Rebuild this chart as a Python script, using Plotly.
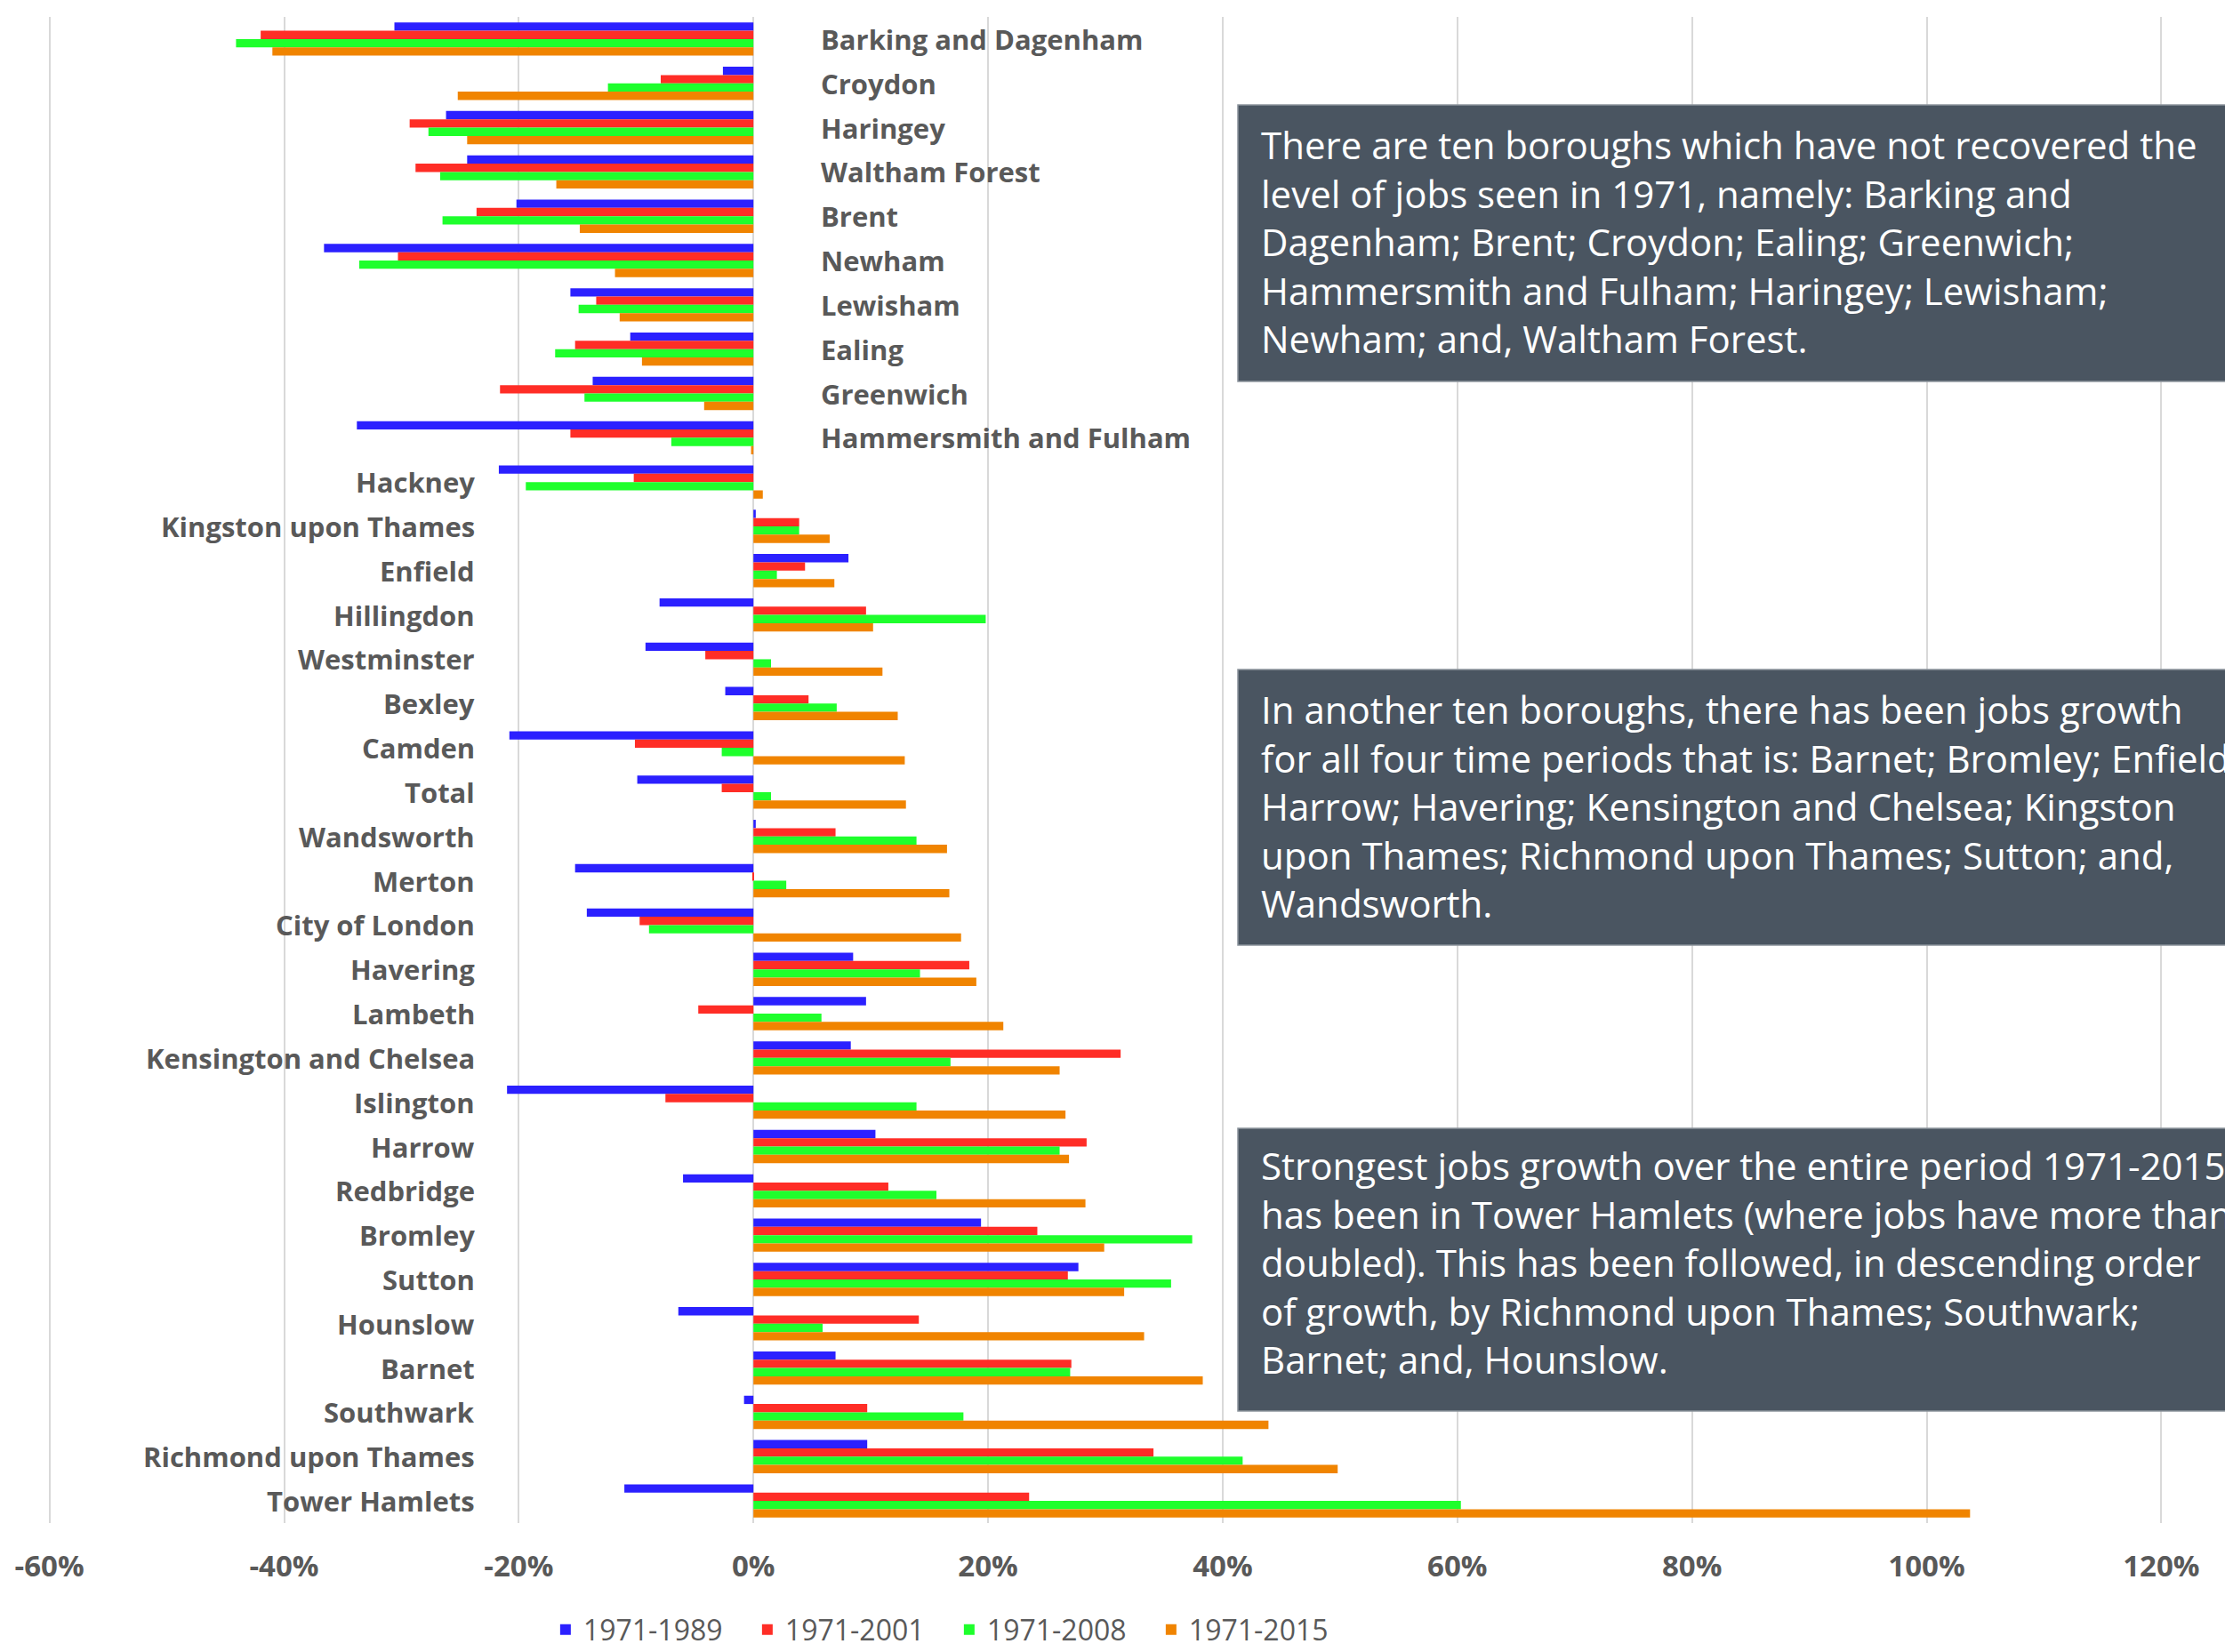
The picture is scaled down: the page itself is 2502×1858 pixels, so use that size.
import plotly.graph_objects as go

boroughs = [
    "Barking and Dagenham", "Croydon", "Haringey", "Waltham Forest", "Brent",
    "Newham", "Lewisham", "Ealing", "Greenwich", "Hammersmith and Fulham",
    "Hackney", "Kingston upon Thames", "Enfield", "Hillingdon", "Westminster",
    "Bexley", "Camden", "Total", "Wandsworth", "Merton",
    "City of London", "Havering", "Lambeth", "Kensington and Chelsea", "Islington",
    "Harrow", "Redbridge", "Bromley", "Sutton", "Hounslow",
    "Barnet", "Southwark", "Richmond upon Thames", "Tower Hamlets",
]

# boroughs whose labels sit to the right of the zero line
labels_right_of_axis = boroughs[:10]

series_names = ["1971-1989", "1971-2001", "1971-2008", "1971-2015"]

change_1971_1989 = [
    -30.6, -2.6, -26.2, -24.4, -20.2, -36.6, -15.6, -10.5, -13.7, -33.8,
    -21.7, 0.2, 8.1, -8.0, -9.2, -2.4, -20.8, -9.9, 0.2, -15.2,
    -14.2, 8.5, 9.6, 8.3, -21.0, 10.4, -6.0, 19.4, 27.7, -6.4,
    7.0, -0.8, 9.7, -11.0,
]
change_1971_2001 = [
    -42.0, -7.9, -29.3, -28.8, -23.6, -30.3, -13.4, -15.2, -21.6, -15.6,
    -10.2, 3.9, 4.4, 9.6, -4.1, 4.7, -10.1, -2.7, 7.0, -0.1,
    -9.7, 18.4, -4.7, 31.3, -7.5, 28.4, 11.5, 24.2, 26.8, 14.1,
    27.1, 9.7, 34.1, 23.5,
]
change_1971_2008 = [
    -44.1, -12.4, -27.7, -26.7, -26.5, -33.6, -14.9, -16.9, -14.4, -7.0,
    -19.4, 3.9, 2.0, 19.8, 1.5, 7.1, -2.7, 1.5, 13.9, 2.8,
    -8.9, 14.2, 5.8, 16.8, 13.9, 26.1, 15.6, 37.4, 35.6, 5.9,
    27.0, 17.9, 41.7, 60.3,
]
change_1971_2015 = [
    -41.0, -25.2, -24.4, -16.8, -14.8, -11.8, -11.4, -9.5, -4.2, -0.2,
    0.8, 6.5, 6.9, 10.2, 11.0, 12.3, 12.9, 13.0, 16.5, 16.7,
    17.7, 19.0, 21.3, 26.1, 26.6, 26.9, 28.3, 29.9, 31.6, 33.3,
    38.3, 43.9, 49.8, 103.7,
]

tick_values = [-60, -40, -20, 0, 20, 40, 60, 80, 100, 120]
tick_labels = ["-60%", "-40%", "-20%", "0%", "20%", "40%", "60%", "80%", "100%", "120%"]

note_texts = [
    "There are ten boroughs which have not recovered the<br>"
    "level of jobs seen in 1971, namely: Barking and<br>"
    "Dagenham; Brent; Croydon; Ealing; Greenwich;<br>"
    "Hammersmith and Fulham; Haringey; Lewisham;<br>"
    "Newham; and, Waltham Forest.",
    "In another ten boroughs, there has been jobs growth<br>"
    "for all four time periods that is: Barnet; Bromley; Enfield;<br>"
    "Harrow; Havering; Kensington and Chelsea; Kingston<br>"
    "upon Thames; Richmond upon Thames; Sutton; and,<br>"
    "Wandsworth.",
    "Strongest jobs growth over the entire period 1971-2015<br>"
    "has been in Tower Hamlets (where jobs have more than<br>"
    "doubled). This has been followed, in descending order<br>"
    "of growth, by Richmond upon Thames; Southwark;<br>"
    "Barnet; and, Hounslow.",
]

colors = ["#2B20FF", "#FF2D26", "#1EFF2C", "#F08400"]
FONT = "Open Sans"
GREY = "#595959"

fig = go.Figure()
for name, vals, col in zip(series_names,
                           [change_1971_1989, change_1971_2001, change_1971_2008, change_1971_2015],
                           colors):
    fig.add_trace(go.Bar(
        y=boroughs, x=vals, orientation="h", name=name,
        marker=dict(color=col, line=dict(width=0)),
    ))

annotations = []
for b in boroughs:
    if b in labels_right_of_axis:
        annotations.append(dict(x=0, y=b, xref="x", yref="y", text=f"<b>{b}</b>",
                                showarrow=False, xanchor="left", xshift=74,
                                font=dict(family=FONT, size=31, color=GREY)))
    else:
        annotations.append(dict(x=0, y=b, xref="x", yref="y", text=f"<b>{b}</b>",
                                showarrow=False, xanchor="right", xshift=-311,
                                font=dict(family=FONT, size=31, color=GREY)))

box_spans = [(0.758, 0.9416), (0.3837, 0.5667), (0.0744, 0.2621)]
text_centres = [0.8512, 0.4758, 0.173]
shapes = []
for (y0, y1), yc, txt in zip(box_spans, text_centres, note_texts):
    shapes.append(dict(type="rect", xref="paper", yref="paper", x0=0.5626, x1=1.1,
                       y0=y0, y1=y1, fillcolor="#4A5561",
                       line=dict(color="#8C949C", width=1.5), layer="above"))
    annotations.append(dict(x=0.5727, y=yc, xref="paper", yref="paper", text=txt,
                            showarrow=False, xanchor="left", yanchor="middle", align="left",
                            font=dict(family=FONT, size=42, color="white")))

fig.update_layout(
    width=2502, height=1858,
    margin=dict(l=53, r=69, t=19, b=145, autoexpand=False),
    paper_bgcolor="white", plot_bgcolor="white",
    barmode="group", bargap=0.25, bargroupgap=0,
    font=dict(family=FONT, color=GREY),
    xaxis=dict(range=[-60.2, 120.2], tickvals=tick_values, ticktext=tick_labels,
               showgrid=True, gridcolor="#D9D9D9", gridwidth=2, zeroline=False,
               showline=False, ticks="", ticklabelstandoff=26, automargin=False,
               tickfont=dict(family=FONT, size=33, color=GREY, weight="bold")),
    yaxis=dict(autorange="reversed", showticklabels=False, showgrid=False,
               zeroline=False, showline=False, ticks="", automargin=False),
    legend=dict(orientation="h", x=0.2365, y=-0.0708, xanchor="left", yanchor="middle",
                font=dict(family=FONT, size=32, color=GREY), traceorder="normal",
                itemwidth=30, entrywidth=182, entrywidthmode="pixels"),
    shapes=shapes,
    annotations=annotations,
)

fig.write_html("out.html", config={"displayModeBar": False},
               post_script="document.body.style.margin='0';document.body.style.padding='0';"
                           "document.body.style.overflow='hidden';")
